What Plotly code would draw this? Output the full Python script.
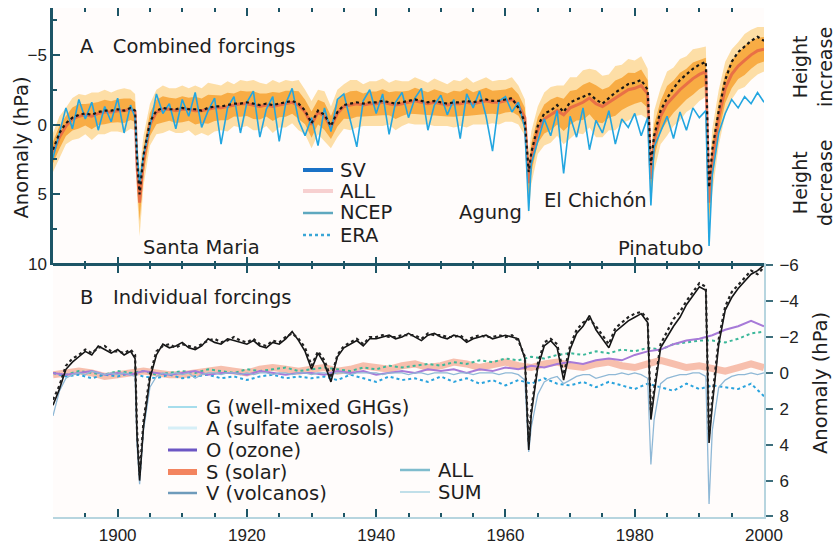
import plotly.graph_objects as go

# ---------------- data (hPa; negative = tropopause height increase) ----------------
years = [
    1890, 1891, 1892, 1893, 1894, 1895, 1896, 1897, 1898, 1899,
    1900, 1901, 1902, 1902.7, 1903, 1903.4, 1904, 1905, 1906, 1907, 1908, 1909,
    1910, 1911, 1912, 1913, 1914, 1915, 1916, 1917, 1918, 1919,
    1920, 1921, 1922, 1923, 1924, 1925, 1926, 1927, 1928, 1929,
    1930, 1931, 1932, 1933, 1934, 1935, 1936, 1937, 1938, 1939,
    1940, 1941, 1942, 1943, 1944, 1945, 1946, 1947, 1948, 1949,
    1950, 1951, 1952, 1953, 1954, 1955, 1956, 1957, 1958, 1959,
    1960, 1961, 1962, 1963, 1963.6, 1964, 1965, 1966, 1967, 1968, 1969,
    1970, 1971, 1972, 1973, 1974, 1975, 1976, 1977, 1978, 1979,
    1980, 1981, 1982, 1982.5, 1983, 1984, 1985, 1986, 1987, 1988, 1989,
    1990, 1991, 1991.5, 1992, 1993, 1994, 1995, 1996, 1997, 1998, 1999, 2000,
]

# Panel A: ALL ensemble mean and spread
ALL_mean = [
    2.0, 0.9, 0.1, -0.4, -0.6, -0.7, -0.6, -0.8, -0.9, -0.9,
    -1.0, -1.0, -1.1, -0.9, 3.0, 5.6, 2.6, 0.0, -0.9, -1.1, -1.1, -1.0,
    -1.1, -1.1, -1.0, -1.0, -1.1, -1.2, -1.2, -1.3, -1.4, -1.5,
    -1.5, -1.4, -1.3, -1.4, -1.3, -1.4, -1.5, -1.6, -1.4, -0.9,
    0.0, -0.9, -0.6, 0.2, -0.8, -1.3, -1.4, -1.5, -1.4, -1.5,
    -1.5, -1.6, -1.5, -1.4, -1.5, -1.6, -1.7, -1.6, -1.5, -1.6,
    -1.5, -1.4, -1.5, -1.5, -1.6, -1.5, -1.6, -1.7, -1.6, -1.6,
    -1.7, -1.8, -1.4, -0.5, 4.2, 2.4, 0.4, -0.4, -0.7, -1.0, -0.7,
    -1.2, -1.4, -1.6, -1.9, -1.5, -1.3, -1.6, -1.9, -2.2, -2.5,
    -2.6, -2.8, -2.2, 3.9, 1.2, -0.6, -1.5, -2.0, -2.5, -2.9, -3.3,
    -3.6, -3.8, 5.6, 2.6, -0.5, -2.6, -3.6, -4.2, -4.6, -5.0, -5.3, -5.4,
]
ALL_spread = [
    1.4, 1.5, 1.3, 1.5, 1.6, 1.4, 1.7, 1.5, 1.6, 1.4,
    1.5, 1.6, 1.4, 1.3, 2.0, 2.4, 1.8, 1.5, 1.6, 1.7, 1.5, 1.6,
    1.7, 1.5, 1.8, 1.6, 1.9, 1.7, 1.6, 1.8, 1.5, 1.7,
    1.6, 1.8, 1.7, 1.5, 1.9, 1.6, 1.7, 1.5, 1.8, 1.6,
    1.7, 1.6, 1.8, 1.5, 1.7, 1.6, 1.8, 1.7, 1.5, 1.6,
    1.6, 1.7, 1.5, 1.8, 1.6, 1.5, 1.7, 1.6, 1.5, 1.7,
    1.6, 1.5, 1.7, 1.6, 1.8, 1.5, 1.6, 1.7, 1.5, 1.6,
    1.5, 1.6, 1.4, 1.3, 2.2, 1.9, 1.7, 1.9, 2.0, 1.8, 2.1,
    2.2, 2.0, 2.3, 2.1, 2.4, 2.2, 2.0, 2.3, 2.1, 2.2,
    2.0, 2.1, 1.8, 1.9, 2.2, 2.0, 2.3, 2.1, 2.2, 2.0, 2.1,
    1.9, 1.8, 2.1, 2.3, 2.0, 1.9, 1.8, 1.7, 1.9, 1.8, 1.7, 1.6,
]
ALL_dotted = [
    1.8, 0.6, -0.1, -0.5, -0.7, -0.8, -0.7, -0.9, -1.0, -1.0,
    -1.1, -1.0, -1.2, -1.0, 2.6, 5.0, 2.2, -0.2, -1.0, -1.2, -1.1, -1.1,
    -1.2, -1.1, -1.1, -1.0, -1.2, -1.3, -1.3, -1.4, -1.5, -1.5,
    -1.6, -1.5, -1.4, -1.5, -1.4, -1.5, -1.6, -1.7, -1.5, -1.0,
    -0.1, -1.0, -0.7, 0.1, -0.9, -1.4, -1.5, -1.6, -1.5, -1.6,
    -1.6, -1.7, -1.6, -1.5, -1.6, -1.7, -1.8, -1.7, -1.6, -1.7,
    -1.6, -1.5, -1.6, -1.6, -1.7, -1.6, -1.7, -1.8, -1.7, -1.7,
    -1.8, -1.9, -1.2, -0.2, 3.4, 2.0, 0.1, -0.8, -1.0, -1.4, -0.9,
    -1.6, -1.8, -2.0, -2.2, -1.8, -1.5, -1.9, -2.3, -2.6, -2.9,
    -3.0, -3.2, -2.5, 2.9, 0.8, -1.0, -1.9, -2.6, -3.2, -3.6, -4.0,
    -4.3, -4.5, 4.5, 1.8, -1.0, -3.2, -4.5, -5.2, -5.6, -6.0, -6.3, -6.0,
]
SV = [
    2.4, 0.5, -1.2, 0.3, -1.8, -0.4, -1.6, 0.4, -1.3, -0.2,
    -1.9, 0.6, -1.4, -0.5, 2.0, 4.2, 2.2, 0.2, -2.2, -0.8, -1.5, 0.3,
    -1.8, -0.6, -2.3, 0.2, -1.0, -1.9, 1.4, -1.2, -2.0, 0.6,
    -1.6, -2.4, 0.9, -1.1, -2.0, 1.2, -1.5, -2.6, -0.3, 0.8,
    -0.5, 1.5, -1.2, 0.5, -1.8, -2.2, -0.4, 1.6, -1.7, -2.5,
    -0.8, -2.2, 0.7, -1.6, -2.3, -0.5, -1.9, -2.6, 0.4, -1.4,
    -2.1, -0.7, -1.8, 1.0, -2.2, -1.2, -2.4, -0.6, 1.9, -1.7,
    -2.0, -0.9, -1.6, 0.3, 6.2, 2.8, 1.2, -0.4, 0.8, -1.0, 3.5,
    -0.6, 0.9, -1.2, 1.8, -0.3, 0.6, -1.0, 1.4, -0.4, 0.2,
    -0.8, 0.8, -0.5, 5.8, 1.6, 0.5, -0.6, 1.0, -0.9, 0.4, -1.2,
    -0.5, -1.0, 8.7, 3.6, 0.6, -0.8, -1.8, -1.2, -2.0, -1.5, -2.3, -1.6,
]

# Panel B: ALL, SUM and volcanic-only runs
B_ALL = [
    1.8, 0.9, -0.2, -0.6, -0.9, -1.2, -1.0, -1.5, -1.3, -1.1,
    -1.3, -1.0, -1.2, -0.8, 3.5, 6.0, 3.0, 0.3, -1.0, -1.6, -1.4, -1.5,
    -1.7, -1.4, -1.3, -1.5, -1.9, -1.7, -1.6, -1.9, -1.8, -1.7,
    -1.6, -1.8, -1.5, -1.4, -1.7, -1.6, -1.9, -2.3, -1.8, -1.2,
    -0.2, -1.1, -0.5, 0.5, -0.9, -1.4, -1.6, -1.8, -1.5, -1.9,
    -1.9, -2.0, -2.1, -1.9, -2.0, -2.2, -2.0, -1.8, -2.1, -2.2,
    -2.0, -1.9, -2.1, -2.0, -1.7, -1.9, -2.0, -2.1, -1.9, -2.0,
    -2.1, -2.0, -1.9, -0.8, 4.3, 2.3, -0.3, -1.5, -1.8, -1.4, 0.4,
    -1.3, -2.2, -2.6, -3.2, -2.4, -1.9, -1.4, -2.3, -2.6, -2.9,
    -3.1, -3.3, -2.8, 2.6, 1.2, -1.4, -2.0, -2.6, -3.1, -3.8, -4.3,
    -4.8, -4.6, 3.9, 1.8, -1.6, -3.5, -4.2, -4.7, -5.1, -5.5, -5.7, -6.0,
]
B_SUM = [
    1.5, 0.7, -0.4, -0.8, -1.0, -1.3, -1.1, -1.4, -1.5, -1.2,
    -1.2, -1.1, -1.3, -1.0, 3.2, 5.7, 2.7, 0.1, -1.2, -1.5, -1.6, -1.4,
    -1.6, -1.5, -1.4, -1.6, -1.8, -1.9, -1.7, -1.8, -2.0, -1.8,
    -1.7, -1.9, -1.6, -1.5, -1.8, -1.7, -2.0, -2.2, -1.9, -1.4,
    -0.4, -1.2, -0.7, 0.3, -1.0, -1.5, -1.7, -1.9, -1.6, -2.0,
    -2.0, -2.1, -2.0, -2.0, -2.1, -2.1, -2.1, -1.9, -2.2, -2.1,
    -2.1, -2.0, -2.0, -2.1, -1.8, -2.0, -2.1, -2.0, -2.0, -2.1,
    -2.0, -2.1, -1.8, -0.9, 3.9, 2.0, -0.5, -1.7, -1.9, -1.6, 0.1,
    -1.5, -2.4, -2.8, -3.0, -2.6, -2.1, -1.6, -2.5, -2.8, -3.1,
    -3.3, -3.4, -3.0, 2.2, 0.9, -1.6, -2.3, -3.0, -3.4, -4.0, -4.5,
    -5.0, -4.8, 3.4, 1.4, -1.9, -3.7, -4.5, -4.9, -5.3, -5.7, -5.5, -5.9,
]
B_V = [
    2.4, 1.0, 0.3, 0.1, 0.0, 0.1, -0.1, 0.0, 0.1, 0.0,
    0.1, 0.0, 0.1, 0.2, 4.0, 6.2, 3.2, 0.8, 0.2, 0.0, 0.1, 0.0,
    0.1, 0.0, 0.3, 0.1, 0.0, 0.0, 0.1, 0.0, 0.0, 0.1,
    0.0, 0.1, 0.0, 0.0, 0.1, 0.0, 0.0, 0.1, 0.0, 0.0,
    0.1, 0.0, 0.0, 0.1, 0.0, 0.0, 0.1, 0.0, 0.0, 0.0,
    0.0, 0.1, 0.0, 0.0, 0.0, 0.1, 0.0, 0.0, 0.1, 0.0,
    0.0, 0.0, 0.1, 0.0, 0.0, 0.1, 0.0, 0.0, 0.0, 0.1,
    0.0, 0.0, 0.1, 0.4, 4.4, 3.0, 1.2, 0.5, 0.3, 0.2, 0.6,
    0.4, 0.2, 0.1, 0.1, 0.3, 0.2, 0.1, 0.1, 0.0, 0.1,
    0.0, 0.1, 0.3, 5.1, 2.6, 0.6, 0.3, 0.2, 0.1, 0.1, 0.0,
    0.0, 0.2, 7.3, 3.2, 0.8, 0.4, 0.2, 0.1, 0.1, 0.0, 0.1, 0.0,
]

# Panel B: smoother individual forcings (every 2 years)
years2 = list(range(1890, 2001, 2))
B_G = [
    0.0, 0.1, -0.1, 0.0, 0.1, -0.1, 0.0, -0.1, 0.1, 0.0,
    -0.1, 0.0, -0.2, -0.1, 0.0, -0.2, -0.1, -0.2, -0.3, -0.1,
    -0.2, -0.3, -0.2, -0.1, -0.3, -0.2, -0.4, -0.3, -0.4, -0.5,
    -0.4, -0.6, -0.5, -0.7, -0.6, -0.8, -0.7, -0.9, -0.8, -1.0,
    -1.1, -1.0, -1.2, -1.1, -1.3, -1.2, -1.4, -1.3, -1.6, -1.7,
    -1.8, -1.8, -1.7, -1.9, -2.2, -2.3,
]
B_A = [
    0.0, 0.2, 0.1, 0.3, 0.1, 0.2, 0.0, 0.2, 0.3, 0.1,
    0.3, 0.2, 0.1, 0.3, 0.2, 0.4, 0.2, 0.1, 0.3, 0.2,
    0.3, 0.2, 0.4, 0.1, 0.3, 0.5, 0.2, 0.4, 0.3, 0.5,
    0.2, 0.5, 0.3, 0.6, 0.4, 0.7, 0.4, 0.6, 0.3, 0.6,
    0.7, 0.5, 0.8, 0.5, 0.7, 0.9, 0.6, 0.8, 1.0, 0.6,
    0.9, 0.7, 0.8, 0.9, 0.6, 1.3,
]
B_O = [
    0.0, 0.1, 0.0, -0.1, 0.1, 0.0, 0.1, -0.1, 0.0, 0.1,
    0.0, -0.1, 0.1, 0.0, 0.0, 0.1, -0.1, 0.0, 0.1, 0.0,
    0.0, 0.1, -0.1, 0.0, -0.1, 0.1, 0.0, -0.1, 0.0, -0.2,
    -0.1, -0.2, 0.0, -0.2, -0.1, -0.3, -0.2, -0.4, -0.3, -0.5,
    -0.6, -0.5, -0.7, -0.8, -0.7, -1.0, -1.2, -1.3, -1.6, -1.8,
    -1.9, -2.1, -2.4, -2.6, -2.9, -2.6,
]
B_S = [
    0.1, 0.0, -0.1, 0.0, 0.2, 0.1, 0.0, -0.1, 0.0, 0.1,
    0.1, 0.0, -0.1, -0.2, -0.1, 0.0, -0.2, -0.3, -0.2, -0.1,
    -0.2, -0.3, -0.1, -0.2, -0.4, -0.3, -0.2, -0.4, -0.5, -0.3,
    -0.4, -0.6, -0.5, -0.3, -0.5, -0.6, -0.4, -0.3, -0.5, -0.6,
    -0.4, -0.3, -0.5, -0.6, -0.4, -0.3, -0.5, -0.7, -0.5, -0.3,
    -0.4, -0.2, -0.1, -0.3, -0.5, -0.3,
]

x_ticks = [1900, 1920, 1940, 1960, 1980, 2000]
yA_ticks = [-5, 0, 5, 10]
yB_ticks = [-6, -4, -2, 0, 2, 4, 6, 8]

# legend keys: (label, colour, width, dash)
legendA = [("SV", "#1a72c6", 4, "solid"), ("ALL", "#f7d0d0", 4, "solid"),
           ("NCEP", "#5ea8bf", 2.5, "solid"), ("ERA", "#3aa6d6", 2.5, "dot")]
legendB1 = [("G (well-mixed GHGs)", "#a6ddec", 2, "solid"),
            ("A (sulfate aerosols)", "#d6eff7", 3, "solid"),
            ("O (ozone)", "#6c57c4", 3, "solid"),
            ("S (solar)", "#f3845f", 6, "solid"),
            ("V (volcanos)", "#6e9bbb", 2.5, "solid")]
legendB2 = [("ALL", "#7fbccd", 2.5, "solid"), ("SUM", "#c0dfe9", 2, "solid")]

for s in (ALL_mean, ALL_spread, ALL_dotted, SV, B_ALL, B_SUM, B_V):
    assert len(s) == len(years), len(s)
for s in (B_G, B_A, B_O, B_S):
    assert len(s) == len(years2), len(s)

# ---------------- figure ----------------
TFONT = "DejaVu Sans, Verdana, sans-serif"
NFONT = "Liberation Sans, Arial, sans-serif"
TEAL = "#1d5566"
LIGHT = "#b7d5df"
W, H = 836, 548
ML, MR, MT, MB = 53, 72, 8, 31
PW, PH = W - ML - MR, H - MT - MB
SPLIT = (H - MB - 264.5) / PH


def px(x):
    return (x - ML) / PW


def py(y):
    return 1 - (y - MT) / PH


fig = go.Figure()


def band(hi, lo, color):
    fig.add_trace(go.Scatter(x=years, y=hi, mode="lines", line=dict(width=0),
                             hoverinfo="skip", showlegend=False, xaxis="x", yaxis="y"))
    fig.add_trace(go.Scatter(x=years, y=lo, mode="lines", line=dict(width=0),
                             fill="tonexty", fillcolor=color, hoverinfo="skip",
                             showlegend=False, xaxis="x", yaxis="y"))


hi_o = [m - s for m, s in zip(ALL_mean, ALL_spread)]
lo_o = [m + s for m, s in zip(ALL_mean, ALL_spread)]
hi_i = [m - 0.55 * s for m, s in zip(ALL_mean, ALL_spread)]
lo_i = [m + 0.55 * s for m, s in zip(ALL_mean, ALL_spread)]
band(hi_o, lo_o, "rgba(251,196,96,0.55)")
band(hi_i, lo_i, "rgba(245,152,30,0.72)")

fig.add_trace(go.Scatter(x=years, y=ALL_mean, mode="lines", name="ALL",
                         line=dict(color="rgba(228,92,70,0.75)", width=3),
                         showlegend=False, xaxis="x", yaxis="y"))
fig.add_trace(go.Scatter(x=years, y=SV, mode="lines", name="SV",
                         line=dict(color="#23a6e0", width=1.6),
                         showlegend=False, xaxis="x", yaxis="y"))
fig.add_trace(go.Scatter(x=years, y=ALL_dotted, mode="lines", name="ALL mean",
                         line=dict(color="#161616", width=2.2, dash="dot"),
                         showlegend=False, xaxis="x", yaxis="y"))

# Panel B traces
fig.add_trace(go.Scatter(x=years2, y=B_S, mode="lines", name="S (solar)",
                         line=dict(color="rgba(240,140,110,0.55)", width=7),
                         showlegend=False, xaxis="x2", yaxis="y2"))
fig.add_trace(go.Scatter(x=years2, y=B_A, mode="lines", name="A (sulfate aerosols)",
                         line=dict(color="#2aa3dd", width=2, dash="dot"),
                         showlegend=False, xaxis="x2", yaxis="y2"))
fig.add_trace(go.Scatter(x=years2, y=B_G, mode="lines", name="G (well-mixed GHGs)",
                         line=dict(color="#3cb89a", width=2, dash="dot"),
                         showlegend=False, xaxis="x2", yaxis="y2"))
fig.add_trace(go.Scatter(x=years2, y=B_O, mode="lines", name="O (ozone)",
                         line=dict(color="#a77ad8", width=2),
                         showlegend=False, xaxis="x2", yaxis="y2"))
fig.add_trace(go.Scatter(x=years, y=B_V, mode="lines", name="V (volcanos)",
                         line=dict(color="#8fb8d6", width=1.3),
                         showlegend=False, xaxis="x2", yaxis="y2"))
fig.add_trace(go.Scatter(x=years, y=B_ALL, mode="lines", name="ALL",
                         line=dict(color="#151515", width=1.6),
                         showlegend=False, xaxis="x2", yaxis="y2"))
fig.add_trace(go.Scatter(x=years, y=B_SUM, mode="lines", name="SUM",
                         line=dict(color="#222222", width=2.2, dash="dot"),
                         showlegend=False, xaxis="x2", yaxis="y2"))

# ---------------- key (legend) drawn as line shapes + text ----------------
shapes = [dict(type="line", xref="paper", yref="paper", x0=0, x1=1, y0=SPLIT, y1=SPLIT,
               line=dict(color=TEAL, width=3))]
annotations = []
tf = dict(family=TFONT, size=19.5, color="#1e1e1e")


def add_key(entries, gx0, gx1, tx, ys):
    for (label, color, width, dash), y in zip(entries, ys):
        shapes.append(dict(type="line", xref="paper", yref="paper",
                           x0=px(gx0), x1=px(gx1), y0=py(y), y1=py(y),
                           line=dict(color=color, width=width, dash=dash)))
        annotations.append(dict(x=px(tx), y=py(y), xref="paper", yref="paper", text=label,
                                showarrow=False, xanchor="left", yanchor="middle", font=tf))


add_key(legendA, 303, 333, 338, [170, 191, 213, 235])
add_key(legendB1, 168, 197, 204, [407, 428, 450, 472, 493])
add_key(legendB2, 400, 430, 436, [470, 492])


def label(text, x, y, angle=0, anchor="center", font=tf):
    annotations.append(dict(x=px(x), y=py(y), xref="paper", yref="paper", text=text,
                            textangle=angle, showarrow=False, xanchor=anchor,
                            yanchor="middle", font=font))


label("A\u2003Combined forcings", 78, 47, anchor="left")
label("B\u2003Individual forcings", 78, 297, anchor="left")
label("Santa Maria", 201.5, 247)
label("Agung", 490.5, 212)
label("El Chichón", 595.5, 200)
label("Pinatubo", 660, 248)
side_font = dict(family=TFONT, size=19, color="#1e1e1e")
label("Height<br>increase", 812, 67, -90, font=side_font)
label("Height<br>decrease", 812, 183, -90, font=side_font)
label("Anomaly (hPa)", 820, 383, -90)
label("Anomaly (hPa)", 21.5, 148, -90)

minor_x = dict(dtick=5, ticks="inside", ticklen=4, tickwidth=2, tickcolor=TEAL, showgrid=False)
yA_range = [10.03, -8.36]
yB_range = [8.03, -6.04]

fig.update_layout(
    template="none",
    width=W, height=H,
    margin=dict(l=ML, r=MR, t=MT, b=MB, autoexpand=False),
    paper_bgcolor="white", plot_bgcolor="#fffcfb",
    font=dict(family=NFONT, size=17, color="#222"),
    showlegend=False,
    xaxis=dict(domain=[0, 1], anchor="y", range=[1890, 2000], showticklabels=False,
               tickvals=x_ticks, ticks="inside", ticklen=8, tickwidth=2, tickcolor=TEAL,
               showline=True, linecolor="rgba(0,0,0,0)", mirror="ticks", automargin=False,
               showgrid=False, zeroline=False, minor=minor_x),
    xaxis2=dict(domain=[0, 1], anchor="y2", range=[1890, 2000], matches="x",
                tickvals=x_ticks, ticktext=[str(v) for v in x_ticks],
                ticks="inside", ticklen=8, tickwidth=2, tickcolor=TEAL, automargin=False,
                showline=True, linecolor=LIGHT, linewidth=2, mirror="ticks",
                showgrid=False, zeroline=False, minor=minor_x, ticklabelstandoff=2,
                tickfont=dict(family=NFONT, size=17, color="#222")),
    yaxis=dict(domain=[SPLIT, 1], anchor="x", range=yA_range, tickvals=yA_ticks,
               ticks="inside", ticklen=7, tickwidth=2, tickcolor=TEAL, automargin=False,
               showline=True, linecolor=TEAL, linewidth=2.5, showgrid=False, zeroline=False,
               minor=dict(dtick=2.5, ticks="inside", ticklen=4, tickwidth=2, tickcolor=TEAL, showgrid=False),
               tickfont=dict(family=NFONT, size=17, color="#222")),
    yaxis3=dict(overlaying="y", anchor="x", side="right", range=yA_range, automargin=False,
                showticklabels=False, ticks="inside", dtick=2, ticklen=4, tickwidth=2,
                tickcolor="#3d6e7c", showline=True, linecolor=LIGHT, linewidth=2,
                showgrid=False, zeroline=False),
    yaxis2=dict(domain=[0, SPLIT], anchor="x2", side="right", range=yB_range,
                tickvals=yB_ticks, ticks="outside", ticklen=7, tickwidth=2, tickcolor="#3d6e7c",
                showline=True, linecolor=LIGHT, linewidth=2, showgrid=False, zeroline=False,
                automargin=False, ticklabelstandoff=3,
                tickfont=dict(family=NFONT, size=17, color="#222")),
    yaxis4=dict(overlaying="y2", anchor="x2", side="left", range=yB_range, automargin=False,
                showticklabels=False, ticks="inside", dtick=1, ticklen=5, tickwidth=2,
                tickcolor=TEAL, showline=True, linecolor=TEAL, linewidth=2.5,
                showgrid=False, zeroline=False),
    annotations=annotations,
    shapes=shapes,
)

fig.write_html("out.html", config={"displayModeBar": False},
               post_script="document.body.style.margin='0px';")
